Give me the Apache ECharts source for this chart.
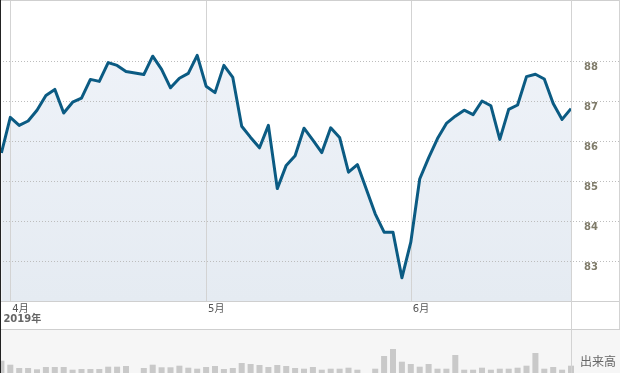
<!DOCTYPE html>
<html><head><meta charset="utf-8">
<script src="https://cdn.jsdelivr.net/npm/echarts@6/dist/echarts.min.js"></script>
<style>html,body{margin:0;padding:0;background:#fff}#c{width:620px;height:373px}</style>
</head><body><div id="c"></div>
<script>
const dates = ['3/29',
  '4/1','4/2','4/3','4/4','4/5','4/8','4/9','4/10','4/11','4/12','4/15','4/16','4/17','4/18','4/19',
  '4/22','4/23','4/24','4/25','4/26','4/29','4/30',
  '5/1','5/2','5/3','5/6','5/7','5/8','5/9','5/10','5/13','5/14','5/15','5/16','5/17',
  '5/20','5/21','5/22','5/23','5/24','5/27','5/28','5/29','5/30','5/31',
  '6/3','6/4','6/5','6/6','6/7','6/10','6/11','6/12','6/13','6/14','6/17','6/18','6/19','6/20','6/21',
  '6/24','6/25','6/26','6/27'];
const prices = [85.70,
  86.59,86.39,86.50,86.77,87.14,87.29,86.70,86.97,87.07,87.54,87.49,87.96,87.89,87.74,null,
  87.66,88.12,87.79,87.33,87.57,87.69,88.14,
  87.37,87.21,87.89,87.59,86.37,86.09,85.83,86.39,84.81,85.39,85.63,86.32,86.02,
  85.71,86.33,86.09,85.22,85.41,null,84.18,83.72,83.72,82.58,
  83.47,85.05,85.58,86.06,86.44,86.62,86.77,86.66,87.00,86.88,86.04,86.79,86.90,87.61,87.67,
  87.55,86.94,86.54,86.81];
const volumes = [12.3,
  8.3,5,5,3.7,6,6,6,3.3,4,4,4,6.3,6.3,7,null,
  5,8.3,5.7,5.7,7.3,5.3,4.3,
  6,7,4,5,10,9,8,6,8,7,5,4.3,6,
  3.3,4.3,4.3,5.3,3.3,null,4.3,17,24,11.3,
  9,6.3,9,4.3,4.3,18,3.3,3.3,5.3,3.3,4.3,4.3,5.3,7.3,20,
  4.3,6,3.3,7.3];
const yTicks = [83,84,85,86,87,88];
const yearLabel = '2019年';
const volumeLabel = '出来高';

const month = s => s.split('/')[0];
const isMonthStart = i => i > 0 && month(dates[i]) !== month(dates[i-1]);
const FONT = '"DejaVu Sans", "Noto Sans CJK JP", sans-serif';

const chart = echarts.init(document.getElementById('c'), null, {renderer:'canvas'});
chart.setOption({
  animation: false,
  grid: [
    {left: 1.4, right: 49, top: 1, height: 300},
    {left: 0, right: 1, top: 61, height: 240},
    {left: 1.4, right: 49, top: 330, bottom: 0}
  ],
  xAxis: [
    {gridIndex: 0, type: 'category', data: dates, boundaryGap: false, z: 3,
     axisLine: {show: false}, axisTick: {show: false},
     axisLabel: {interval: (i) => isMonthStart(i), formatter: v => month(v) + '月',
       align: 'left', margin: 3, padding: [0,0,0,2], color: '#555', fontSize: 10, fontFamily: FONT},
     splitLine: {show: true, interval: (i) => isMonthStart(i), lineStyle: {color: '#d3d3d3', width: 1}},
     name: yearLabel, nameLocation: 'start', nameGap: -2,
     nameTextStyle: {align: 'left', verticalAlign: 'top', padding: [13,0,0,0], fontWeight: 'bold',
       color: '#666', fontSize: 10, fontFamily: FONT}
    },
    {gridIndex: 1, type: 'value', show: false, min: 0, max: 1},
    {gridIndex: 2, type: 'category', data: dates, boundaryGap: false, show: false}
  ],
  yAxis: [
    {gridIndex: 0, type: 'value', min: 82, max: 89.5, show: false},
    {gridIndex: 1, type: 'value', min: 82, max: 88, interval: 1, position: 'right', z: 3,
     axisLine: {show: false}, axisTick: {show: false},
     axisLabel: {inside: true, margin: 21, align: 'right', verticalAlign: 'top', lineHeight: 12,
       formatter: v => yTicks.includes(v) ? String(v) : '',
       color: '#7f7b6a', fontWeight: 'bold', fontSize: 10, fontFamily: FONT},
     splitLine: {show: true, showMinLine: false, lineStyle: {type: [1,2], color: '#bdbdbd', width: 1}}},
    {gridIndex: 2, type: 'value', min: 0, max: 43, show: false}
  ],
  series: [
    {type: 'line', data: prices, xAxisIndex: 0, yAxisIndex: 0, symbol: 'none', connectNulls: true, z: 1,
     lineStyle: {width: 0, opacity: 0},
     areaStyle: {color: new echarts.graphic.LinearGradient(0,0,0,1,[{offset:0,color:'#eef2f8'},{offset:1,color:'#e5ebf2'}]), opacity: 1}},
    {type: 'line', data: prices, xAxisIndex: 0, yAxisIndex: 0, symbol: 'none', connectNulls: true, z: 5,
     lineStyle: {color: '#0b5b83', width: 3, join: 'round'}},
    {type: 'bar', data: volumes, xAxisIndex: 2, yAxisIndex: 2, barWidth: 6, z: 2,
     itemStyle: {color: '#c9c9c9'}}
  ],
  graphic: [
    {type: 'rect', z: 0, shape: {x: 0, y: 330, width: 620, height: 43}, style: {fill: '#f6f6f6'}},
    {type: 'line', z: 50, shape: {x1: 0, y1: 0.5, x2: 620, y2: 0.5}, style: {stroke: '#cfcfcf', lineWidth: 1}},
    {type: 'line', z: 50, shape: {x1: 0, y1: 301.5, x2: 620, y2: 301.5}, style: {stroke: '#cfcfcf', lineWidth: 1}},
    {type: 'line', z: 50, shape: {x1: 0, y1: 329.5, x2: 620, y2: 329.5}, style: {stroke: '#cfcfcf', lineWidth: 1}},
    {type: 'line', z: 50, shape: {x1: 571.5, y1: 0, x2: 571.5, y2: 373}, style: {stroke: '#d3d3d3', lineWidth: 1}},
    {type: 'line', z: 50, shape: {x1: 619.5, y1: 0, x2: 619.5, y2: 329}, style: {stroke: '#d3d3d3', lineWidth: 1}},
    {type: 'rect', z: 60, shape: {x: 0, y: 0, width: 1, height: 373}, style: {fill: '#222'}},
    {type: 'text', z: 60, x: 580, y: 361, style: {text: volumeLabel, fill: '#666', fontSize: 12,
      fontFamily: '"Noto Sans CJK JP", sans-serif', verticalAlign: 'middle'}}
  ]
});
</script>
</body></html>
